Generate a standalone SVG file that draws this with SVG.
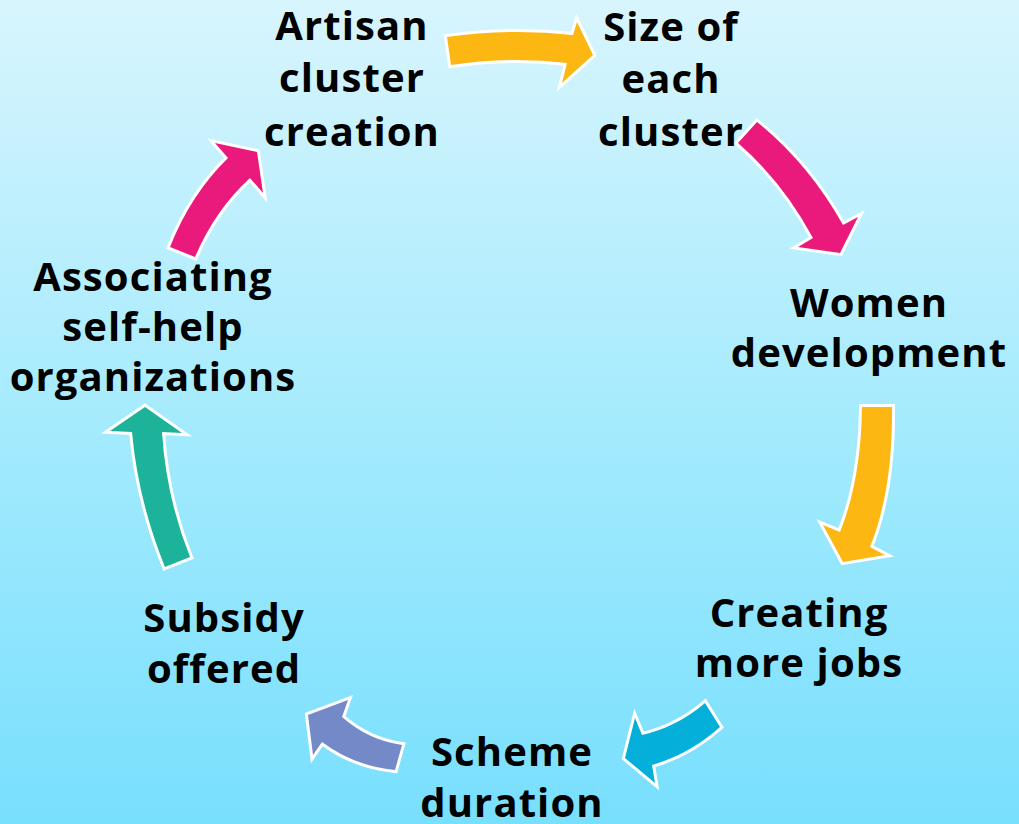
<svg xmlns="http://www.w3.org/2000/svg" width="1019" height="824" viewBox="0 0 1019 824">
<defs>
<linearGradient id="bg" x1="0" y1="0" x2="0" y2="1">
<stop offset="0" stop-color="#d8f5fd"/>
<stop offset="0.5" stop-color="#a6ebfd"/>
<stop offset="1" stop-color="#78dffd"/>
</linearGradient>
<style>
.lbl{font-family:"Open Sans","DejaVu Sans",sans-serif;font-weight:700;font-size:40px;fill:#000;text-anchor:middle;letter-spacing:1.1px}
.arr{stroke:#fff;stroke-width:6;stroke-linejoin:miter;paint-order:stroke}
</style>
</defs>
<rect width="1019" height="824" fill="url(#bg)"/>
<g id="connectors">
<path class="arr" fill="#fdb713" d="M447,37 Q510,28 573,35 L577,22 L593,55 L562,83 L567,63 Q510,56 451,65 Z"/>
<path class="arr" fill="#ea197c" d="M738,143 L757,122 Q808,163 843,225 L858,217 L840,253 L798,247 L813,238 Q783,182 738,143 Z"/>
<path class="arr" fill="#fdb713" d="M862,407 L892,407 Q893,490 870,547 L885,555 L843,562 L823,525 L840,532 Q861,480 862,407 Z"/>
<path class="arr" fill="#04afd9" d="M705,703 Q677,727 642,735 L635,718 L625,758 L655,783 L652,765 Q690,754 720,727 Z"/>
<path class="arr" fill="#7389c8" d="M402,745 Q368,740 342,717 L348,700 L308,715 L313,755 L322,742 Q354,766 395,770 Z"/>
<path class="arr" fill="#1db29a" d="M165,567 L190,557 Q166,497 162,432 L182,433 L145,407 L110,431 L132,432 Q138,500 165,567 Z"/>
<path class="arr" fill="#ea197c" d="M170,247 Q191,194 228,158 L215,143 L257,152 L263,193 L250,178 Q215,210 195,257 Z"/>
</g>
<g id="node-artisan"><text class="lbl" x="352" y="40">Artisan</text><text class="lbl" x="352" y="92">cluster</text><text class="lbl" x="352" y="146">creation</text></g>
<g id="node-size"><text class="lbl" x="671" y="41">Size of</text><text class="lbl" x="671" y="93">each</text><text class="lbl" x="671" y="146">cluster</text></g>
<g id="node-women"><text class="lbl" x="869" y="317">Women</text><text class="lbl" x="869" y="367">development</text></g>
<g id="node-jobs"><text class="lbl" x="799" y="627">Creating</text><text class="lbl" x="799" y="677">more jobs</text></g>
<g id="node-scheme"><text class="lbl" x="512" y="766">Scheme</text><text class="lbl" x="512" y="817">duration</text></g>
<g id="node-subsidy"><text class="lbl" x="224" y="632">Subsidy</text><text class="lbl" x="224" y="683">offered</text></g>
<g id="node-shg"><text class="lbl" x="153" y="291">Associating</text><text class="lbl" x="153" y="341">self-help</text><text class="lbl" x="153" y="391">organizations</text></g>
</svg>
